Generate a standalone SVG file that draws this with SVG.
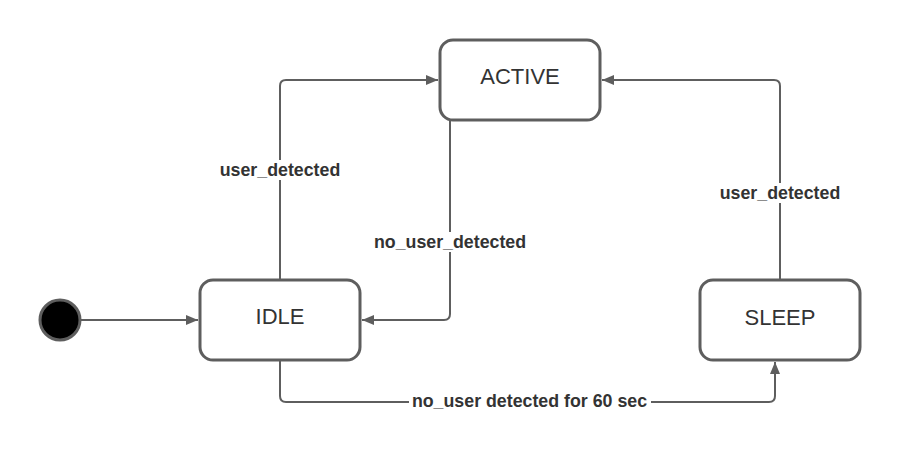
<svg xmlns="http://www.w3.org/2000/svg" width="900" height="452" viewBox="0 0 900 452">
<defs>
<style>
.node rect{fill:#fff;stroke:#5e5e5e;stroke-width:3}
.node text{font-family:"Liberation Sans",Arial,sans-serif;font-size:22px;fill:#333;text-anchor:middle}
.edge{fill:none;stroke:#5e5e5e;stroke-width:2}
.lbl rect{fill:#fff}
.lbl text{font-family:"Liberation Sans",Arial,sans-serif;font-size:17.8px;font-weight:bold;fill:#333;text-anchor:middle;dominant-baseline:central}
</style>
<marker id="arr" viewBox="0 0 12 10" refX="12" refY="5" markerWidth="12" markerHeight="10" markerUnits="userSpaceOnUse" orient="auto">
<path d="M0,0 L12,5 L0,10 Z" fill="#5e5e5e"/>
</marker>
</defs>
<rect width="900" height="452" fill="#fff"/>
<g id="connectors">
<path class="edge" d="M81,320 L198,320" marker-end="url(#arr)"/>
<path class="edge" d="M280,280 L280,86 Q280,80 286,80 L438,80" marker-end="url(#arr)"/>
<path class="edge" d="M450,120 L450,314 Q450,320 444,320 L362,320" marker-end="url(#arr)"/>
<path class="edge" d="M780,280 L780,86 Q780,80 774,80 L602,80" marker-end="url(#arr)"/>
<path class="edge" d="M280,360 L280,396 Q280,402 286,402 L769,402 Q775,402 775,396 L775,362" marker-end="url(#arr)"/>
<g class="lbl"><rect x="216" y="160" width="128" height="20"/><text x="280" y="170">user_detected</text></g>
<g class="lbl"><rect x="371" y="232" width="158" height="20"/><text x="450" y="242">no_user_detected</text></g>
<g class="lbl"><rect x="716" y="183" width="128" height="20"/><text x="780" y="193">user_detected</text></g>
<g class="lbl"><rect x="409" y="391" width="242" height="20"/><text x="529.5" y="401">no_user detected for 60 sec</text></g>
</g>
<g id="initial"><circle cx="60" cy="320" r="20" fill="#000" stroke="#5e5e5e" stroke-width="3"/></g>
<g id="idle" class="node"><rect x="200" y="280" width="160" height="80" rx="13"/><text x="280" y="324">IDLE</text></g>
<g id="active" class="node"><rect x="440" y="40" width="160" height="80" rx="13"/><text x="520" y="84">ACTIVE</text></g>
<g id="sleep" class="node"><rect x="700" y="280" width="160" height="80" rx="13"/><text x="780" y="325">SLEEP</text></g>
</svg>
